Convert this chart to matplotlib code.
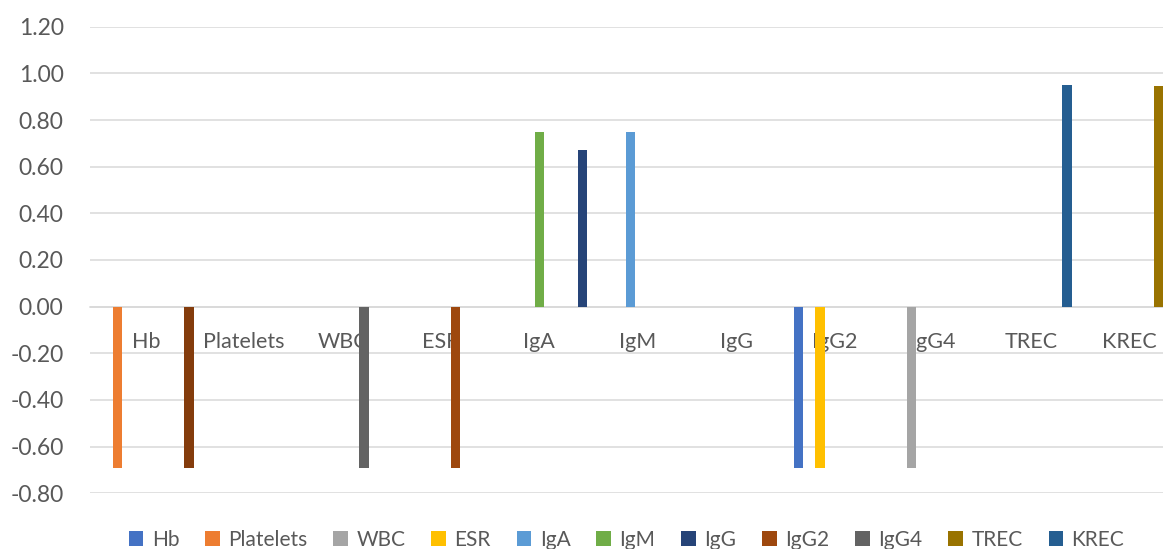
import numpy as np
import matplotlib
matplotlib.use("Agg")
import matplotlib.pyplot as plt
from matplotlib.patches import Patch

nan = np.nan

# Category axis labels
categories = ["Hb", "Platelets", "WBC", "ESR", "IgA", "IgM", "IgG",
              "IgG2", "IgG4", "TREC", "KREC"]

# One list of values per series, indexed by category (nan = no bar)
hb_vals        = [nan, nan, nan, nan, nan, nan, nan, -0.69, nan, nan, nan]
platelets_vals = [-0.69, nan, nan, nan, nan, nan, nan, nan, nan, nan, nan]
wbc_vals       = [nan, nan, nan, nan, nan, nan, nan, nan, -0.69, nan, nan]
esr_vals       = [nan, nan, nan, nan, nan, nan, nan, -0.69, nan, nan, nan]
iga_vals       = [nan, nan, nan, nan, nan, 0.75, nan, nan, nan, nan, nan]
igm_vals       = [nan, nan, nan, nan, 0.75, nan, nan, nan, nan, nan, nan]
igg_vals       = [nan] * 11
igg2_vals      = [nan, nan, nan, -0.69, nan, nan, nan, nan, nan, nan, nan]
igg4_vals      = [nan, nan, -0.69, nan, nan, nan, nan, nan, nan, nan, nan]
trec_vals      = [nan, nan, nan, nan, nan, nan, nan, nan, nan, nan, 0.945]
krec_vals      = [nan, nan, nan, nan, nan, nan, nan, nan, nan, 0.95, nan]
# twelfth series (not listed in the legend), coloured point by point
extra_vals     = [-0.69, nan, nan, nan, 0.67, nan, nan, nan, nan, nan, nan]

series_names = ["Hb", "Platelets", "WBC", "ESR", "IgA", "IgM", "IgG",
                "IgG2", "IgG4", "TREC", "KREC"]
series_values = [hb_vals, platelets_vals, wbc_vals, esr_vals, iga_vals,
                 igm_vals, igg_vals, igg2_vals, igg4_vals, trec_vals,
                 krec_vals]

# Office palette
series_colors = ["#4472C4", "#ED7D31", "#A5A5A5", "#FFC000", "#5B9BD5",
                 "#70AD47", "#264478", "#9E480E", "#636363", "#997300",
                 "#255E91"]
extra_colors = ["#843C0C", nan, nan, nan, "#264478", nan, nan, nan, nan,
                nan, nan]

y_ticks = [-0.8, -0.6, -0.4, -0.2, 0.0, 0.2, 0.4, 0.6, 0.8, 1.0, 1.2]

text_color = "#595959"
grid_color = "#D9D9D9"

plt.rcParams["font.family"] = ["Lato", "DejaVu Sans"]

W, H = 1163, 549
fig = plt.figure(figsize=(W / 100, H / 100), dpi=100)
ax_left, ax_right = 90, 1163
ax_top, ax_bottom = 26.7, 493.3
ax = fig.add_axes([ax_left / W, 1 - ax_bottom / H,
                   (ax_right - ax_left) / W, (ax_bottom - ax_top) / H])

n_main = len(series_names)
slot_step = 0.0729
bar_w = 0.095
x = np.arange(len(categories))

def slot_x(slot):
    # clusters are centred on the eleven named series
    return x + (slot - (n_main - 1) / 2) * slot_step

for i, (name, vals, col) in enumerate(zip(series_names, series_values,
                                           series_colors)):
    v = np.array(vals, dtype=float)
    m = ~np.isnan(v)
    ax.bar(slot_x(i)[m], v[m], width=bar_w, color=col, zorder=3,
           linewidth=0)

ev = np.array(extra_vals, dtype=float)
em = ~np.isnan(ev)
ax.bar(slot_x(n_main)[em], ev[em], width=bar_w,
       color=[c for c, k in zip(extra_colors, em) if k], zorder=3,
       linewidth=0)

ax.set_ylim(-0.8, 1.2)
ax.set_xlim(-0.568, 10.34)
ax.set_yticks(y_ticks)
ax.set_yticklabels([f"{t:.2f}" for t in y_ticks])
ax.yaxis.grid(True, color=grid_color, linewidth=1.1, zorder=0)
ax.set_axisbelow(True)
for s in ["left", "right", "top"]:
    ax.spines[s].set_visible(False)
ax.spines["bottom"].set_position(("data", 0))
ax.spines["bottom"].set_color(grid_color)
ax.spines["bottom"].set_linewidth(1.1)

ax.set_xticks(x)
ax.set_xticklabels(categories)
ax.tick_params(axis="x", length=0, pad=18, labelsize=15.5,
               labelcolor=text_color)
ax.tick_params(axis="y", length=0, pad=19, labelsize=16.5,
               labelcolor=text_color)

handles = [Patch(facecolor=c, edgecolor="none") for c in series_colors]
fig.legend(handles, series_names, loc="center", ncol=11,
           bbox_to_anchor=((ax_left + ax_right) / 2 / W, 9 / H),
           frameon=False, fontsize=15, labelcolor=text_color,
           handlelength=0.7, handleheight=0.7, handletextpad=0.4,
           columnspacing=1.25)

fig.savefig("out.png", dpi=100)
